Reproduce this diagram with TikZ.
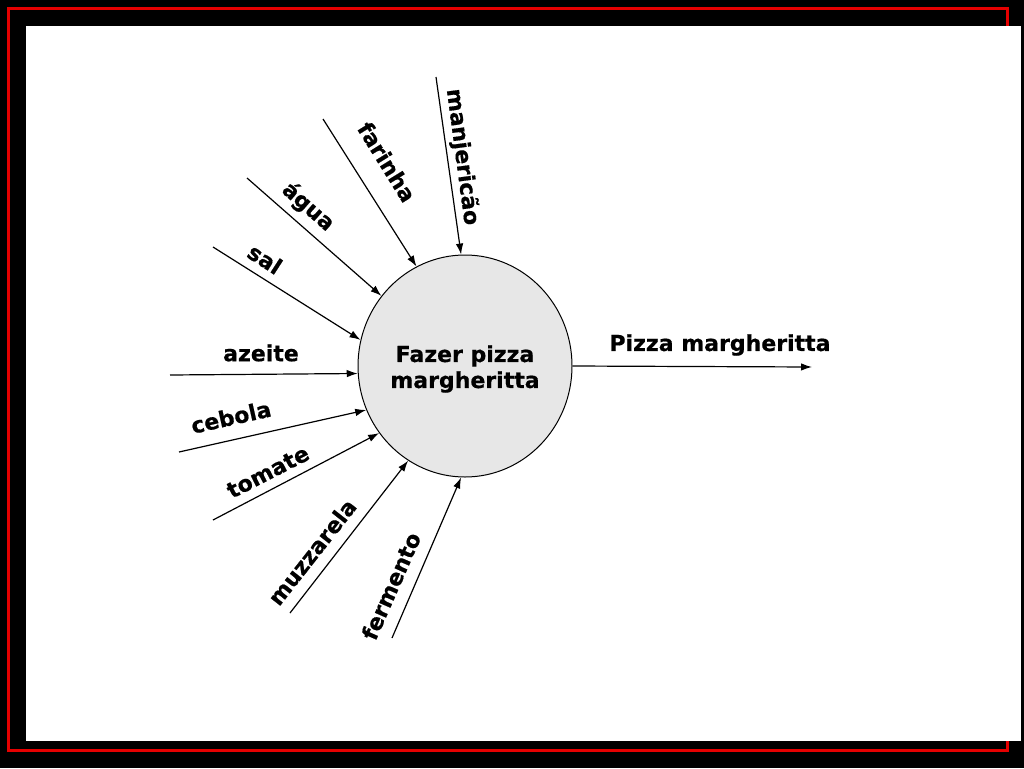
\documentclass[tikz,border=0pt]{standalone}
\usepackage{fontspec}
\setmainfont{DejaVu Sans}[BoldFeatures={FakeBold=0.6}]
\usetikzlibrary{arrows.meta,shapes.geometric}
\definecolor{framered}{RGB}{230,0,0}
\definecolor{disc}{RGB}{231,231,231}
\tikzset{
  lbl/.style={font=\fontsize{22}{26}\selectfont\bfseries, inner sep=0pt, align=center},
  arr/.style={line width=1.2pt, -{Latex[length=11pt,width=7.5pt]}},
  proc/.style={ellipse, draw=black, line width=1pt, fill=disc, minimum width=214pt, minimum height=222pt, inner sep=0pt}
}
\begin{document}
\begin{tikzpicture}[x=1pt,y=-1pt]
\useasboundingbox (0,0) rectangle (1024,768);
\fill[black] (0,0) rectangle (1024,768);
\draw[framered, line width=3pt] (8.5,8.5) rectangle (1007,750);
\fill[white] (26,26) rectangle (1021,741);

\node[proc] (c) at (465,366) {};
\node[lbl] (t) at (465,369) {Fazer pizza\\margheritta};

% start points
\coordinate (sManj) at (436,77);
\coordinate (sFar) at (323,119);
\coordinate (sAgua) at (247,178);
\coordinate (sSal) at (213,247);
\coordinate (sAze) at (170,375);
\coordinate (sCeb) at (179,452);
\coordinate (sTom) at (213,520);
\coordinate (sMuz) at (290,613);
\coordinate (sFer) at (392,638);
\coordinate (eOut) at (812,367);

\draw[arr] (sManj) -- (c.92.6);
\draw[arr] (sFar) -- (c.116.6);
\draw[arr] (sAgua) -- (c.140.3);
\draw[arr] (sSal) -- (c.166.5);
\draw[arr] (sAze) -- (c.184.8);
\draw[arr] (sCeb) -- (c.204.2);
\draw[arr] (sTom) -- (c.218.3);
\draw[arr] (sMuz) -- (c.239.7);
\draw[arr] (sFer) -- (c.268.5);
\draw[arr] (c.east) -- (eOut);

% labels
\node[lbl, rotate=-82.4] (lManj) at (462,157) {manjericão};
\node[lbl, rotate=-58.2] (lFar) at (387,162) {farinha};
\node[lbl, rotate=-41.4] (lAgua) at (308,207) {água};
\node[lbl, rotate=-32.9] (lSal) at (265,259) {sal};
\node[lbl] (lAze) at (261,353) {azeite};
\node[lbl, rotate=12.6] (lCeb) at (231,417) {cebola};
\node[lbl, rotate=27.1] (lTom) at (268,472) {tomate};
\node[lbl, rotate=51.8] (lMuz) at (312,552) {muzzarela};
\node[lbl, rotate=66.2] (lFer) at (391,586) {fermento};
\node[lbl] (lOut) at (720,345) {Pizza margheritta};
\end{tikzpicture}
\end{document}
